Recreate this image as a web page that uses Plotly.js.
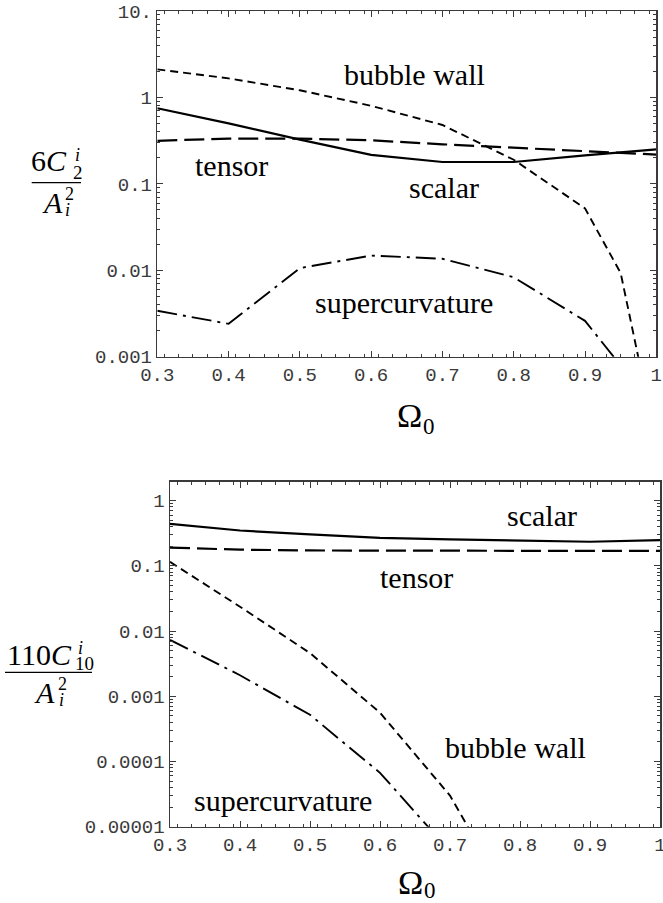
<!DOCTYPE html>
<html><head><meta charset="utf-8">
<script src="https://cdn.plot.ly/plotly-3.0.1.min.js"></script>
<style>body{margin:0;background:#fff}#chart{width:663px;height:903px}</style>
</head><body><div id="chart"></div>
<script>
// ---- data: top panel (l = 2) ----
const omegaTop = [0.3, 0.4, 0.5, 0.6, 0.7, 0.8, 0.9, 1.0];
const scalarTop = [0.75, 0.50, 0.325, 0.216, 0.179, 0.179, 0.214, 0.251];
const tensorTop = [0.315, 0.334, 0.334, 0.319, 0.287, 0.262, 0.240, 0.218];
const bubbleTopX = [0.3, 0.4, 0.5, 0.6, 0.7, 0.8, 0.9, 0.95, 1.0];
const bubbleTop = [2.11, 1.66, 1.21, 0.80, 0.48, 0.19, 0.052, 0.0093, 0.0001];
const superTopX = [0.3, 0.4, 0.5, 0.6, 0.7, 0.8, 0.9, 1.0];
const superTop = [0.0034, 0.0024, 0.0106, 0.0148, 0.0136, 0.0083, 0.0026, 0.00024];

// ---- data: bottom panel (l = 10) ----
const omegaBot = [0.3, 0.4, 0.5, 0.6, 0.7, 0.8, 0.9, 1.0];
const scalarBot = [0.44, 0.348, 0.303, 0.269, 0.254, 0.245, 0.234, 0.248];
const tensorBot = [0.19, 0.177, 0.172, 0.170, 0.170, 0.170, 0.169, 0.169];
const bubbleBotX = [0.3, 0.4, 0.5, 0.6, 0.7, 0.8];
const bubbleBot = [0.115, 0.0236, 0.0046, 0.00056, 0.00003, 0.0000004];
const superBotX = [0.3, 0.4, 0.5, 0.6, 0.7];
const superBot = [0.0073, 0.0021, 0.00052, 0.000067, 0.0000042];

// ---- tick labels ----
const xTickVals = [0.3, 0.4, 0.5, 0.6, 0.7, 0.8, 0.9, 1.0];
const xTickText = ['0.3', '0.4', '0.5', '0.6', '0.7', '0.8', '0.9', '1'];
const yTopVals = [0.001, 0.01, 0.1, 1, 10];
const yTopText = ['0.001', '0.01', '0.1', '1', '10.'];
const yBotVals = [0.00001, 0.0001, 0.001, 0.01, 0.1, 1];
const yBotText = ['0.00001', '0.0001', '0.001', '0.01', '0.1', '1'];

// minor tick positions (axis decoration only)
const xMinor = [];
for (let k = 31; k < 100; k += 2) xMinor.push(k / 100);
function logMinor(e0, e1) {
  const out = [];
  for (let e = e0; e < e1; e++) for (let d = 2; d <= 9; d++) out.push(d * Math.pow(10, e));
  return out;
}
const yTopMinor = logMinor(-3, 1);
const yBotMinor = logMinor(-5, 1);

const W = 663, H = 903;
const styles = {
  scalar: {color: '#000', width: 2.2, dash: 'solid'},
  tensor: {color: '#000', width: 2.2, dash: '20px,7px'},
  bubble: {color: '#000', width: 1.9, dash: '8px,5px'},
  superc: {color: '#000', width: 1.9, dash: '20px,6px,3px,6px'}
};
function tr(x, y, st, xa, ya) {
  return {x: x, y: y, type: 'scatter', mode: 'lines', line: st,
          xaxis: xa, yaxis: ya, showlegend: false, hoverinfo: 'skip', cliponaxis: true};
}
const data = [
  tr(omegaTop, scalarTop, styles.scalar, 'x', 'y'),
  tr(omegaTop, tensorTop, styles.tensor, 'x', 'y'),
  tr(bubbleTopX, bubbleTop, styles.bubble, 'x', 'y'),
  tr(superTopX, superTop, styles.superc, 'x', 'y'),
  tr(omegaBot, scalarBot, styles.scalar, 'x2', 'y2'),
  tr(omegaBot, tensorBot, styles.tensor, 'x2', 'y2'),
  tr(bubbleBotX, bubbleBot, styles.bubble, 'x2', 'y2'),
  tr(superBotX, superBot, styles.superc, 'x2', 'y2')
];

const frame = '#3a3a3a';
const tickFont = {family: "'Liberation Mono', 'DejaVu Sans Mono', monospace", size: 19, color: '#3a3a3a'};
function xax(dom, anchor) {
  return {domain: dom, anchor: anchor, range: [0.3, 1.0], tickmode: 'array', tickvals: xTickVals, ticktext: xTickText,
    ticks: 'inside', ticklen: 6, tickwidth: 1, tickcolor: frame, showline: true, linecolor: frame,
    linewidth: 1.5, mirror: 'allticks', showgrid: false, zeroline: false, tickfont: tickFont,
    ticklabeloverflow: 'allow',
    minor: {tickmode: 'array', tickvals: xMinor, ticks: 'inside', ticklen: 3, tickwidth: 1, tickcolor: frame, showgrid: false}};
}
function yax(dom, anchor, range, vals, text, minorVals) {
  return {domain: dom, anchor: anchor, type: 'log', range: range, tickmode: 'array', tickvals: vals, ticktext: text,
    ticks: 'inside', ticklen: 6, tickwidth: 1, tickcolor: frame, showline: true, linecolor: frame,
    linewidth: 1.5, mirror: 'allticks', showgrid: false, zeroline: false, tickfont: tickFont,
    ticklabeloverflow: 'allow',
    minor: {tickmode: 'array', tickvals: minorVals, ticks: 'inside', ticklen: 3, tickwidth: 1, tickcolor: frame, showgrid: false}};
}

const serif = "'Liberation Serif', 'DejaVu Serif', serif";
function ann(text, px, py, size, extra) {
  return Object.assign({text: text, x: px / W, y: 1 - py / H, xref: 'paper', yref: 'paper',
    xanchor: 'center', yanchor: 'middle', showarrow: false,
    font: {family: serif, size: size, color: '#000'}}, extra || {});
}
const annotations = [
  // curve labels, top
  ann('bubble wall', 414, 74, 30),
  ann('tensor', 232, 166, 30),
  ann('scalar', 444, 187, 30),
  ann('supercurvature', 404, 302, 30),
  // curve labels, bottom
  ann('scalar', 542, 515, 30),
  ann('tensor', 416, 577, 30),
  ann('bubble wall', 515, 747, 30),
  ann('supercurvature', 283, 800, 30),
  // x titles
  ann('Ω', 409, 415, 34),
  ann('0', 429, 426, 23),
  ann('Ω', 410, 882, 34),
  ann('0', 430, 890, 23),
  // y title top: 6 C_2^i / A_i^2
  ann('6<i>C</i>', 49, 160, 30),
  ann('<i>i</i>', 77, 155, 18),
  ann('2', 78, 173, 19),
  ann('<i>A</i>', 52, 202, 30),
  ann('2', 69, 194, 18),
  ann('<i>i</i>', 67, 210, 18),
  // y title bottom: 110 C_10^i / A_i^2
  ann('110<i>C</i>', 39, 654, 30),
  ann('<i>i</i>', 80, 648, 18),
  ann('10', 85, 663, 19),
  ann('<i>A</i>', 44, 692, 30),
  ann('2', 62, 684, 18),
  ann('<i>i</i>', 61, 700, 18)
];
const shapes = [
  {type: 'line', xref: 'paper', yref: 'paper', x0: 31.7 / W, x1: 81 / W, y0: 1 - 182.7 / H, y1: 1 - 182.7 / H,
   line: {color: '#000', width: 1.2}},
  {type: 'line', xref: 'paper', yref: 'paper', x0: 5 / W, x1: 92 / W, y0: 1 - 672.3 / H, y1: 1 - 672.3 / H,
   line: {color: '#000', width: 1.2}}
];

const layout = {
  width: W, height: H, margin: {l: 0, r: 0, t: 0, b: 0},
  paper_bgcolor: '#fff', plot_bgcolor: '#fff', showlegend: false,
  xaxis: xax([157.3 / W, 656.3 / W], 'y'),
  yaxis: yax([1 - 356.7 / H, 1 - 11 / H], 'x', [-3, 1], yTopVals, yTopText, yTopMinor),
  xaxis2: xax([170 / W, 660 / W], 'y2'),
  yaxis2: yax([1 - 826.7 / H, 1 - 481.7 / H], 'x2', [-5, 0.29], yBotVals, yBotText, yBotMinor),
  annotations: annotations, shapes: shapes
};
Plotly.newPlot('chart', data, layout, {displayModeBar: false, staticPlot: true});
</script></body></html>
